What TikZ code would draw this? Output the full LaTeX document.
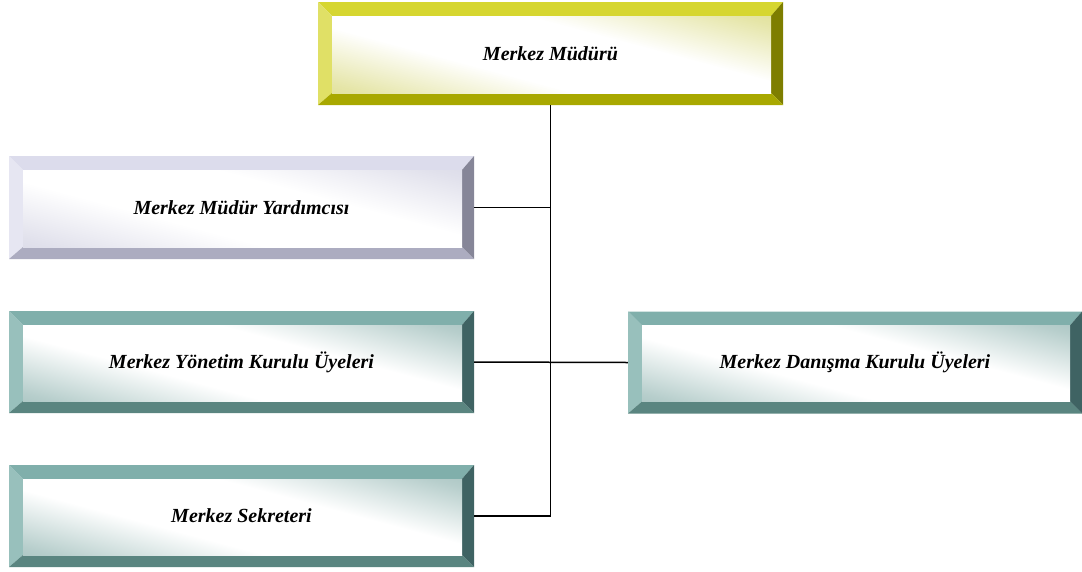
\documentclass[tikz,border=0pt]{standalone}
\usepackage{fontspec}
\setmainfont{Liberation Serif}
\usetikzlibrary{calc}
\definecolor{yT}{HTML}{D6D630}
\definecolor{yL}{HTML}{E0E066}
\definecolor{yR}{HTML}{7E7E00}
\definecolor{yB}{HTML}{A8A800}
\definecolor{yF}{HTML}{D0D060}
\definecolor{lT}{HTML}{DCDCEC}
\definecolor{lL}{HTML}{E6E6F2}
\definecolor{lR}{HTML}{868698}
\definecolor{lB}{HTML}{ACACC0}
\definecolor{lF}{HTML}{C8C8DC}
\definecolor{tT}{HTML}{80AFAB}
\definecolor{tL}{HTML}{98C0BC}
\definecolor{tR}{HTML}{3F6363}
\definecolor{tB}{HTML}{5A8580}
\definecolor{tF}{HTML}{7CA6A2}
\definecolor{yM}{rgb}{1,1,1}
\colorlet{yH}{yF!55!white}
\colorlet{lH}{lF!55!white}
\colorlet{tH}{tF!55!white}
\pgfdeclarehorizontalshading{yface}{100bp}{color(0bp)=(yF); color(22bp)=(yH); color(40bp)=(white); color(60bp)=(white); color(78bp)=(yH); color(100bp)=(yF)}
\pgfdeclarehorizontalshading{lface}{100bp}{color(0bp)=(lF); color(22bp)=(lH); color(40bp)=(white); color(60bp)=(white); color(78bp)=(lH); color(100bp)=(lF)}
\pgfdeclarehorizontalshading{tface}{100bp}{color(0bp)=(tF); color(22bp)=(tH); color(40bp)=(white); color(60bp)=(white); color(78bp)=(tH); color(100bp)=(tF)}
\tikzset{
  bevbox/.style n args={5}{rectangle, inner sep=0pt,
    font=\bfseries\itshape\fontsize{20}{24}\selectfont,
    path picture={
      \coordinate (pnw) at (path picture bounding box.north west);
      \coordinate (pne) at (path picture bounding box.north east);
      \coordinate (psw) at (path picture bounding box.south west);
      \coordinate (pse) at (path picture bounding box.south east);
      \coordinate (inw) at ($(pnw)+(14,14)$);
      \coordinate (ine) at ($(pne)+(-12,14)$);
      \coordinate (isw) at ($(psw)+(14,-12)$);
      \coordinate (ise) at ($(pse)+(-12,-12)$);
      \fill[#1] (pnw) -- (pne) -- (ine) -- (inw) -- cycle;
      \fill[#2] (pnw) -- (inw) -- (isw) -- (psw) -- cycle;
      \fill[#3] (pne) -- (pse) -- (ise) -- (ine) -- cycle;
      \fill[#4] (psw) -- (isw) -- (ise) -- (pse) -- cycle;
      \shade[shading=#5, shading angle=75] (inw) rectangle (ise);
    }},
  yel/.style={bevbox={yT}{yL}{yR}{yB}{yface}},
  lav/.style={bevbox={lT}{lL}{lR}{lB}{lface}},
  tea/.style={bevbox={tT}{tL}{tR}{tB}{tface}},
  conn/.style={draw=black, line width=1.5pt}
}
\begin{document}
\begin{tikzpicture}[x=1pt,y=-1pt]
\useasboundingbox (0,0) rectangle (1082,571);
\node[yel, minimum width=465, minimum height=103] (top) at (550.5,53.5) {Merkez Müdürü};
\node[lav, minimum width=465, minimum height=103] (yard) at (241.5,207.5) {Merkez Müdür Yardımcısı};
\node[tea, minimum width=465, minimum height=102] (yon) at (241.5,362) {Merkez Yönetim Kurulu Üyeleri};
\node[tea, minimum width=465, minimum height=102] (sek) at (241.5,516) {Merkez Sekreteri};
\node[tea, minimum width=454, minimum height=102] (dan) at (855,362.5) {Merkez Danışma Kurulu Üyeleri};
\coordinate (j) at (top.south |- sek.east);
\draw[conn] (top.south) -- (j) -- (sek.east);
\draw[conn] (yard.east) -- (yard.east -| top.south);
\draw[conn] (yon.east) -- (dan.west);
\end{tikzpicture}
\end{document}
